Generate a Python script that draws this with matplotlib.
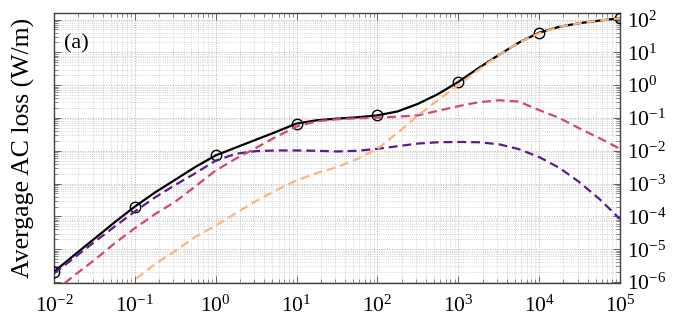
import matplotlib
matplotlib.use("Agg")
import matplotlib.pyplot as plt
import numpy as np
from matplotlib.ticker import FixedLocator, NullFormatter, LogFormatterMathtext

# log10 of frequency grid (quarter decades)
log_x = [-2, -1.75, -1.5, -1.25, -1, -0.75, -0.5, -0.25, 0, 0.25, 0.5, 0.75, 1,
         1.25, 1.5, 1.75, 2, 2.25, 2.5, 2.75, 3, 3.25, 3.5, 3.75, 4, 4.25, 4.5, 4.75, 5]

# log10 of average AC loss (W/m)
total_log = [-5.69, -5.18, -4.68, -4.18, -3.70, -3.27, -2.88, -2.49, -2.14, -1.90, -1.66, -1.42, -1.17,
             -1.07, -1.02, -0.98, -0.92, -0.80, -0.57, -0.27, 0.10, 0.52, 0.92, 1.30, 1.60, 1.78, 1.89, 1.97, 2.04]
purple_log = [-5.74, -5.26, -4.78, -4.31, -3.85, -3.42, -3.04, -2.68, -2.30, -2.09, -2.01, -1.99, -1.99,
              -2.00, -2.02, -2.00, -1.94, -1.86, -1.78, -1.74, -1.73, -1.74, -1.80, -1.95, -2.19, -2.52, -2.96, -3.48, -4.08]
pink_log = [-6.30, -5.80, -5.33, -4.82, -4.36, -3.93, -3.55, -3.08, -2.60, -2.24, -1.91, -1.57, -1.26,
            -1.10, -1.04, -1.01, -0.99, -0.96, -0.92, -0.78, -0.64, -0.52, -0.46, -0.50, -0.76, -1.00, -1.32, -1.62, -1.94]
orange_log = [-8.0, -7.5, -7.0, -6.4, -5.93, -5.45, -5.05, -4.62, -4.28, -3.90, -3.53, -3.20, -2.90,
              -2.68, -2.50, -2.25, -1.94, -1.45, -0.93, -0.45, 0.0, 0.47, 0.92, 1.30, 1.58, 1.78, 1.89, 1.97, 2.04]

# decade tick exponents
x_tick_exp = [-2, -1, 0, 1, 2, 3, 4, 5]
y_tick_exp = [-6, -5, -4, -3, -2, -1, 0, 1, 2]

x = 10.0 ** np.array(log_x)
total = 10.0 ** np.array(total_log)
purple = 10.0 ** np.array(purple_log)
pink = 10.0 ** np.array(pink_log)
orange = 10.0 ** np.array(orange_log)

plt.rcParams['font.family'] = ['Liberation Serif', 'DejaVu Serif']
plt.rcParams['mathtext.fontset'] = 'cm'

fig = plt.figure(figsize=(6.9, 3.31), dpi=100)
ax = fig.add_axes([54/690, 1 - 283/331, 566/690, 270/331])

ax.plot(x, total, color='black', lw=1.6, marker='o', markevery=4, markersize=7.5,
        markerfacecolor='none', markeredgecolor='black', markeredgewidth=1.0, zorder=3)
dash = (4, 2.2)
ax.plot(x, purple, color='#5b1b8b', lw=1.6, dashes=dash, zorder=4)
ax.plot(x, pink, color='#d8456f', lw=1.6, dashes=dash, zorder=4)
ax.plot(x, orange, color='#fdb57b', lw=1.6, dashes=dash, zorder=4)

ax.set_xscale('log')
ax.set_yscale('log')
xlo, xhi = 1e-2, 1e5
ylo, yhi = 10**-6.03, 10**2.2
ax.set_xlim(xlo, xhi)
ax.set_ylim(ylo, yhi)

def minors(exps, lo, hi):
    vals = []
    for e in range(min(exps) - 1, max(exps) + 1):
        for s in range(2, 10):
            v = s * 10.0 ** e
            if lo <= v <= hi:
                vals.append(v)
    return vals

ax.xaxis.set_major_locator(FixedLocator([10.0 ** e for e in x_tick_exp]))
ax.yaxis.set_major_locator(FixedLocator([10.0 ** e for e in y_tick_exp]))
ax.xaxis.set_minor_locator(FixedLocator(minors(x_tick_exp, xlo, xhi)))
ax.yaxis.set_minor_locator(FixedLocator(minors(y_tick_exp, ylo, yhi)))
ax.xaxis.set_minor_formatter(NullFormatter())
ax.yaxis.set_minor_formatter(NullFormatter())
ax.xaxis.set_major_formatter(LogFormatterMathtext())
ax.yaxis.set_major_formatter(LogFormatterMathtext())

ax.grid(True, which='major', linestyle=':', color='#b0b0b0', linewidth=0.7)
ax.grid(True, which='minor', linestyle=':', color='#c8c8c8', linewidth=0.6)
ax.set_axisbelow(True)

ax.tick_params(which='both', direction='in', top=True, bottom=True, left=True, right=True,
               labelleft=False, labelright=True, color='#606060', labelsize=15.5)
ax.tick_params(which='major', length=5, width=0.7)
ax.tick_params(axis='x', which='major', pad=9)
ax.tick_params(axis='y', which='major', pad=5)
ax.tick_params(which='minor', length=3, width=0.5)
ax.yaxis.set_label_position('left')
ax.set_ylabel('Avergage AC loss (W/m)', fontsize=18.5, labelpad=14)

for s in ax.spines.values():
    s.set_color('#404040')
    s.set_linewidth(1.0)

ax.text(0.018, 0.885, '(a)', transform=ax.transAxes, fontsize=16, va='center', ha='left')

fig.savefig('out.png', dpi=100)
